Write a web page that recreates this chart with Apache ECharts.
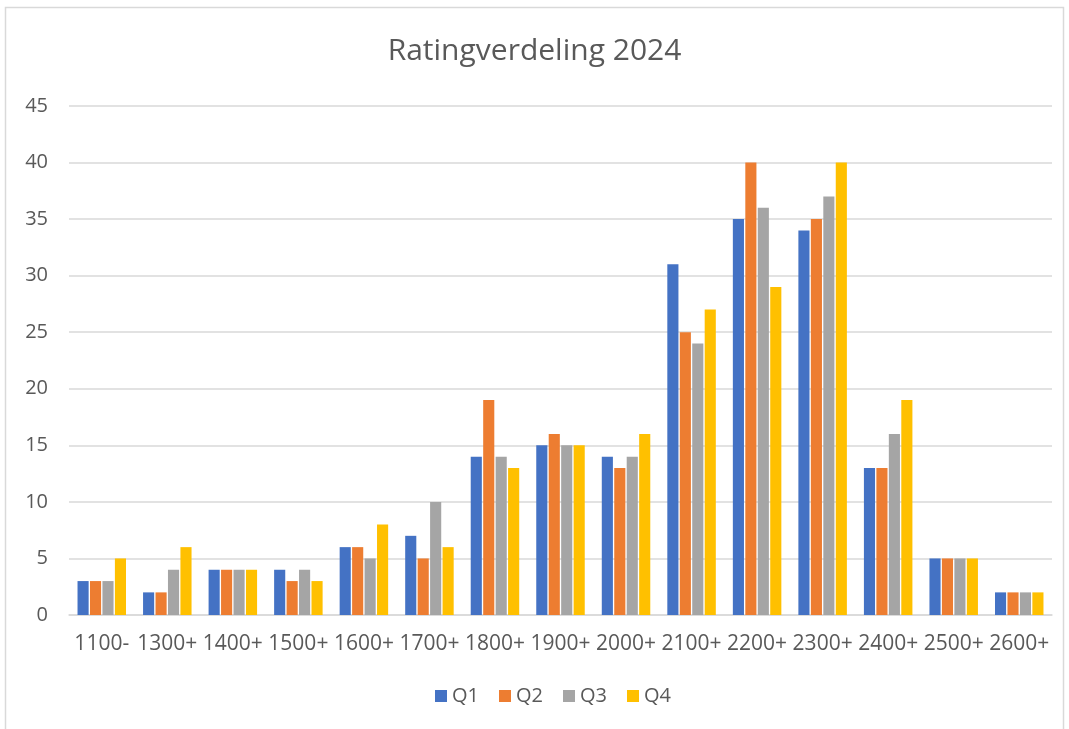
<!DOCTYPE html>
<html>
<head>
<meta charset="utf-8">
<script src="https://cdn.jsdelivr.net/npm/echarts@6/dist/echarts.min.js"></script>
<style>
  html, body { margin: 0; padding: 0; background: #fff; }
  #main { width: 1069px; height: 729px; }
</style>
</head>
<body>
<div id="main"></div>
<script>
var categories = ['1100-', '1300+', '1400+', '1500+', '1600+', '1700+', '1800+', '1900+', '2000+', '2100+', '2200+', '2300+', '2400+', '2500+', '2600+'];
var q1 = [3, 2, 4, 4, 6, 7, 14, 15, 14, 31, 35, 34, 13, 5, 2];
var q2 = [3, 2, 4, 3, 6, 5, 19, 16, 13, 25, 40, 35, 13, 5, 2];
var q3 = [3, 4, 4, 4, 5, 10, 14, 15, 14, 24, 36, 37, 16, 5, 2];
var q4 = [5, 6, 4, 3, 8, 6, 13, 15, 16, 27, 29, 40, 19, 5, 2];
var seriesNames = ['Q1', 'Q2', 'Q3', 'Q4'];
var colors = ['#4472c4', '#ed7d31', '#a5a5a5', '#ffc000'];

window.onload = function () {
  var myChart = echarts.init(document.getElementById('main'));
  var font = '"Open Sans", "Noto Sans", "DejaVu Sans", sans-serif';
  var allData = [q1, q2, q3, q4];

  var series = seriesNames.map(function (name, i) {
    return {
      name: name,
      type: 'bar',
      data: allData[i],
      barGap: '12%',
      barCategoryGap: '26%',
      itemStyle: { color: colors[i] }
    };
  });

  var option = {
    animation: false,
    color: colors,
    graphic: [{
      type: 'rect',
      shape: { x: 5.5, y: 7.5, width: 1058, height: 730 },
      style: { fill: 'none', stroke: '#d9d9d9', lineWidth: 1.5 },
      silent: true
    }],
    title: {
      text: 'Ratingverdeling 2024',
      left: 'center',
      top: 31,
      textStyle: { fontFamily: font, fontSize: 30, fontWeight: 'normal', color: '#595959' }
    },
    legend: {
      bottom: 18,
      left: 430,
      itemWidth: 12,
      itemHeight: 12,
      itemGap: 20,
      icon: 'rect',
      textStyle: { fontFamily: font, fontSize: 20, color: '#595959' },
      data: seriesNames
    },
    grid: { left: 69, right: 17, top: 106, bottom: 114 },
    xAxis: {
      type: 'category',
      data: categories,
      axisLine: { lineStyle: { color: '#d9d9d9', width: 1.5 } },
      axisTick: { show: false },
      axisLabel: { fontFamily: font, fontSize: 21, color: '#595959', margin: 19, interval: 0 }
    },
    yAxis: {
      type: 'value',
      min: 0,
      max: 45,
      interval: 5,
      axisLine: { show: false },
      axisTick: { show: false },
      splitLine: { lineStyle: { color: '#d9d9d9', width: 1.5 } },
      axisLabel: { fontFamily: font, fontSize: 20, color: '#595959', margin: 21 }
    },
    series: series
  };

  myChart.setOption(option);
};
</script>
</body>
</html>
